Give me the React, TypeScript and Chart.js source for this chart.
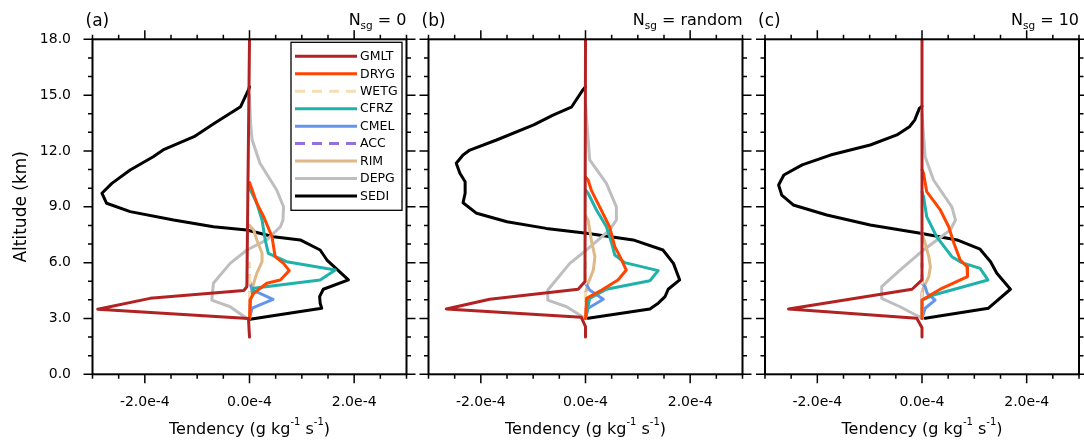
import React, { useEffect, useRef } from 'react';
import { Chart, registerables } from 'chart.js';

Chart.register(...registerables);

// ---------- data (tendency values in units of 1e-4 g kg-1 s-1, altitude in km) ----------
const SERIES_NAMES = ['GMLT', 'DRYG', 'WETG', 'CFRZ', 'CMEL', 'ACC', 'RIM', 'DEPG', 'SEDI'];
const SERIES_COLORS = ['#B22222', '#FF4500', '#F5DEB3', '#20B2AA', '#6495ED', '#9370DB', '#DEB887', '#BEBEBE', '#000000'];
const SERIES_DASHED = [false, false, true, false, false, true, false, false, false];

const X_TICKS = [-2, 0, 2];
const Y_TICKS = [0, 3, 6, 9, 12, 15, 18];
const PANEL_LABELS = ['(a)', '(b)', '(c)'];
const PANEL_NSG = ['0', 'random', '10'];

// Panel (a) N_sg = 0
const GMLT_A_ALT = [18, 4.7, 4.5, 4.08, 3.5, 3.0, 2.0];
const GMLT_A_VAL = [0, -0.05, -0.11, -1.9, -2.9, -0.02, 0];
const DRYG_A_ALT = [10.3, 10.0, 9.19, 8.47, 7.39, 6.32, 5.96, 5.57, 5.07, 4.89, 4.35, 3.99, 3.0];
const DRYG_A_VAL = [0, 0.04, 0.14, 0.27, 0.43, 0.49, 0.65, 0.76, 0.59, 0.33, 0.08, 0.01, 0];
const WETG_A_ALT = [3.0, 6.0];
const WETG_A_VAL = [0, 0];
const CFRZ_A_ALT = [10.0, 9.19, 8.29, 7.22, 6.5, 6.05, 5.6, 5.07, 4.62, 4.0, 3.0];
const CFRZ_A_VAL = [0, 0.14, 0.24, 0.3, 0.36, 0.71, 1.64, 1.35, 0.08, 0.02, 0];
const CMEL_A_ALT = [5.0, 4.53, 4.35, 4.03, 3.55, 3.0];
const CMEL_A_VAL = [0, 0.05, 0.2, 0.45, 0.05, 0];
const ACC_A_ALT = [3.0, 6.0];
const ACC_A_VAL = [0, 0];
const RIM_A_ALT = [8.0, 7.75, 7.22, 6.5, 6.05, 5.43, 4.89, 4.35, 4.0];
const RIM_A_VAL = [0, 0.08, 0.14, 0.24, 0.24, 0.14, 0.08, 0.03, 0];
const DEPG_A_ALT = [15, 13.5, 12.6, 11.34, 9.9, 9.0, 8.29, 7.93, 7.22, 6.68, 5.96, 4.89, 3.99, 3.63, 3.0];
const DEPG_A_VAL = [0, 0.02, 0.05, 0.2, 0.52, 0.65, 0.64, 0.59, 0.33, -0.05, -0.37, -0.69, -0.72, -0.37, -0.05];
const SEDI_A_ALT = [15.45, 15.28, 14.38, 13.93, 13.49, 12.77, 12.09, 11.69, 10.98, 10.26, 9.73, 9.19, 8.74, 8.29, 7.93, 7.75, 7.39, 7.22, 6.68, 6.14, 5.07, 4.57, 4.17, 3.82, 3.55, 2.96];
const SEDI_A_VAL = [0, -0.02, -0.17, -0.42, -0.67, -1.06, -1.63, -1.84, -2.28, -2.63, -2.82, -2.73, -2.28, -1.45, -0.69, -0.05, 0.46, 0.97, 1.35, 1.48, 1.89, 1.41, 1.34, 1.35, 1.38, 0.01];

// Panel (b) N_sg = random
const GMLT_B_ALT = [18, 4.98, 4.57, 4.03, 3.51, 3.06, 2.56, 2.0];
const GMLT_B_VAL = [0, -0.01, -0.14, -1.83, -2.66, -0.08, 0, 0];
const DRYG_B_ALT = [10.6, 10.44, 9.9, 9.0, 7.93, 6.86, 6.32, 5.6, 5.07, 4.53, 4.08, 3.0];
const DRYG_B_VAL = [0, 0.05, 0.11, 0.27, 0.46, 0.56, 0.66, 0.78, 0.62, 0.31, 0.02, 0];
const WETG_B_ALT = [3.0, 6.0];
const WETG_B_VAL = [0, 0];
const CFRZ_B_ALT = [9.9, 9.73, 8.83, 7.93, 7.04, 6.41, 6.0, 5.57, 5.03, 4.57, 4.08, 3.0];
const CFRZ_B_VAL = [0, 0.05, 0.21, 0.4, 0.5, 0.56, 0.75, 1.39, 1.23, 0.4, 0.08, 0];
const CMEL_B_ALT = [4.9, 4.53, 4.03, 3.55, 3.0];
const CMEL_B_VAL = [0, 0.08, 0.34, 0.05, 0];
const ACC_B_ALT = [3.0, 6.0];
const ACC_B_VAL = [0, 0];
const RIM_B_ALT = [8.5, 8.29, 7.22, 6.32, 5.6, 4.89, 4.35];
const RIM_B_VAL = [0, 0.05, 0.11, 0.18, 0.15, 0.05, 0];
const DEPG_B_ALT = [14.5, 13, 11.52, 10.26, 9.0, 8.29, 7.75, 6.68, 5.96, 4.53, 3.99, 3.63, 3.01];
const DEPG_B_VAL = [0, 0.04, 0.08, 0.4, 0.59, 0.59, 0.46, 0.02, -0.3, -0.72, -0.72, -0.36, -0.01];
const SEDI_B_ALT = [15.45, 15.28, 14.35, 13.93, 13.4, 12.59, 12.05, 11.78, 11.34, 10.8, 10.35, 9.73, 9.22, 8.65, 8.2, 7.84, 7.58, 7.22, 6.68, 5.96, 5.07, 4.57, 4.17, 3.82, 3.51, 3.01];
const SEDI_B_VAL = [0, -0.05, -0.27, -0.62, -0.99, -1.7, -2.21, -2.34, -2.47, -2.4, -2.3, -2.3, -2.34, -2.08, -1.5, -0.75, 0.02, 0.91, 1.48, 1.68, 1.8, 1.58, 1.52, 1.39, 1.23, 0.05];

// Panel (c) N_sg = 10
const GMLT_C_ALT = [18, 5.07, 4.57, 3.51, 3.01, 2.5, 2.0];
const GMLT_C_VAL = [0, 0, -0.19, -2.55, -0.1, 0, 0];
const DRYG_C_ALT = [11.0, 10.8, 9.81, 8.83, 7.93, 7.04, 6.14, 5.78, 5.25, 4.62, 3.99, 3.0];
const DRYG_C_VAL = [0, 0.03, 0.09, 0.35, 0.51, 0.61, 0.73, 0.86, 0.87, 0.38, 0, 0];
const WETG_C_ALT = [3.0, 6.0];
const WETG_C_VAL = [0, 0];
const CFRZ_C_ALT = [9.8, 9.54, 8.47, 7.39, 6.32, 6.0, 5.69, 5.07, 4.26, 3.99, 3.0];
const CFRZ_C_VAL = [0, 0.03, 0.09, 0.28, 0.57, 0.76, 1.11, 1.26, 0.22, 0, 0];
const CMEL_C_ALT = [4.9, 4.71, 4.35, 3.99, 3.55, 3.0];
const CMEL_C_VAL = [0, 0.06, 0.1, 0.25, 0.06, 0];
const ACC_C_ALT = [3.0, 6.0];
const ACC_C_VAL = [0, 0];
const RIM_C_ALT = [7.6, 7.04, 6.32, 5.78, 5.25, 4.6, 4.2];
const RIM_C_VAL = [0, 0.06, 0.13, 0.16, 0.13, 0.02, 0];
const DEPG_C_ALT = [14, 12.8, 11.69, 10.44, 9.0, 8.29, 7.75, 6.68, 5.6, 4.71, 4.08, 3.63, 3.01];
const DEPG_C_VAL = [0, 0.03, 0.06, 0.22, 0.57, 0.64, 0.54, 0.03, -0.42, -0.77, -0.77, -0.42, 0];
const SEDI_C_ALT = [14.4, 14.29, 13.66, 13.3, 12.86, 12.32, 11.78, 11.25, 10.71, 10.17, 9.63, 9.1, 8.56, 8.02, 7.58, 7.22, 6.72, 6.05, 5.43, 4.57, 3.55, 3.01];
const SEDI_C_VAL = [0, -0.05, -0.14, -0.24, -0.48, -0.99, -1.75, -2.29, -2.64, -2.74, -2.68, -2.46, -1.82, -0.99, -0.03, 0.67, 1.11, 1.31, 1.43, 1.69, 1.27, 0.06];

const PANEL_ALTS = [
  [GMLT_A_ALT, DRYG_A_ALT, WETG_A_ALT, CFRZ_A_ALT, CMEL_A_ALT, ACC_A_ALT, RIM_A_ALT, DEPG_A_ALT, SEDI_A_ALT],
  [GMLT_B_ALT, DRYG_B_ALT, WETG_B_ALT, CFRZ_B_ALT, CMEL_B_ALT, ACC_B_ALT, RIM_B_ALT, DEPG_B_ALT, SEDI_B_ALT],
  [GMLT_C_ALT, DRYG_C_ALT, WETG_C_ALT, CFRZ_C_ALT, CMEL_C_ALT, ACC_C_ALT, RIM_C_ALT, DEPG_C_ALT, SEDI_C_ALT],
];
const PANEL_VALS = [
  [GMLT_A_VAL, DRYG_A_VAL, WETG_A_VAL, CFRZ_A_VAL, CMEL_A_VAL, ACC_A_VAL, RIM_A_VAL, DEPG_A_VAL, SEDI_A_VAL],
  [GMLT_B_VAL, DRYG_B_VAL, WETG_B_VAL, CFRZ_B_VAL, CMEL_B_VAL, ACC_B_VAL, RIM_B_VAL, DEPG_B_VAL, SEDI_B_VAL],
  [GMLT_C_VAL, DRYG_C_VAL, WETG_C_VAL, CFRZ_C_VAL, CMEL_C_VAL, ACC_C_VAL, RIM_C_VAL, DEPG_C_VAL, SEDI_C_VAL],
];

// ---------- layout ----------
const W = 1084;
const H = 443;
const PLOT_TOP = 39.3;
const PLOT_BOTTOM = 374.3;
const PLOT_LEFT = [92.5, 428.5, 765];
const PLOT_WIDTH = 314;
const Y_AXIS_W = 80;
const X_AXIS_H = 50;
const FONT = '"DejaVu Sans", sans-serif';
const MAJOR_LEN = 9;
const MINOR_LEN = 4.5;

function framePlugin(p: number) {
  return {
    id: 'frame' + p,
    afterDraw(chart: any) {
      const ctx = chart.ctx as CanvasRenderingContext2D;
      const { left, right, top, bottom } = chart.chartArea;
      const xs = chart.scales.x;
      const ys = chart.scales.y;
      ctx.save();
      ctx.strokeStyle = '#000';
      ctx.fillStyle = '#000';
      // ticks
      ctx.lineWidth = 1.5;
      ctx.beginPath();
      for (let i = 0; i <= 12; i++) {
        const v = -3 + i * 0.5;
        const len = X_TICKS.includes(v) ? MAJOR_LEN : MINOR_LEN;
        const px = xs.getPixelForValue(v);
        ctx.moveTo(px, bottom);
        ctx.lineTo(px, bottom + len);
        ctx.moveTo(px, top);
        ctx.lineTo(px, top - len);
      }
      for (let v = 0; v <= 18; v++) {
        const len = Y_TICKS.includes(v) ? MAJOR_LEN : MINOR_LEN;
        const py = ys.getPixelForValue(v);
        ctx.moveTo(left, py);
        ctx.lineTo(left - len, py);
        ctx.moveTo(right, py);
        ctx.lineTo(right + len, py);
      }
      ctx.stroke();
      // frame
      ctx.lineWidth = 2;
      ctx.strokeRect(left, top, right - left, bottom - top);

      // panel label
      ctx.textBaseline = 'alphabetic';
      ctx.textAlign = 'left';
      ctx.font = `17px ${FONT}`;
      ctx.fillText(PANEL_LABELS[p], left - 7, 26);

      // N_sg title (right aligned)
      const big = `16px ${FONT}`;
      const small = `10.5px ${FONT}`;
      ctx.font = big;
      const w1 = ctx.measureText('N').width;
      const rest = ' = ' + PANEL_NSG[p];
      const w3 = ctx.measureText(rest).width;
      ctx.font = small;
      const w2 = ctx.measureText('sg').width;
      const sx = right - (w1 + w2 + w3);
      ctx.font = big;
      ctx.fillText('N', sx, 24.5);
      ctx.font = small;
      ctx.fillText('sg', sx + w1, 28.5);
      ctx.font = big;
      ctx.fillText(rest, sx + w1 + w2, 24.5);

      // x title with superscripts
      const parts: [string, boolean][] = [['Tendency (g kg', false], ['-1', true], [' s', false], ['-1', true], [')', false]];
      const mainF = `16px ${FONT}`;
      const supF = `10px ${FONT}`;
      let total = 0;
      const widths = parts.map(([t, sup]) => {
        ctx.font = sup ? supF : mainF;
        const w = ctx.measureText(t).width;
        total += w;
        return w;
      });
      let tx = (left + right) / 2 - total / 2;
      parts.forEach(([t, sup], i) => {
        ctx.font = sup ? supF : mainF;
        ctx.fillText(t, tx, sup ? 425 : 433.5);
        tx += widths[i];
      });

      if (p === 0) {
        // y title
        ctx.save();
        ctx.translate(22, (top + bottom) / 2);
        ctx.rotate(-Math.PI / 2);
        ctx.textAlign = 'center';
        ctx.textBaseline = 'middle';
        ctx.font = `17px ${FONT}`;
        ctx.fillText('Altitude (km)', 0, 0);
        ctx.restore();

        // legend
        const bx = right - 115.5;
        const by = top + 3;
        const bw = 111;
        const bh = 168;
        ctx.lineWidth = 1.3;
        ctx.strokeRect(bx, by, bw, bh);
        ctx.font = `12.5px ${FONT}`;
        ctx.textBaseline = 'middle';
        SERIES_NAMES.forEach((name, i) => {
          const yy = by + 14 + i * 17.46;
          ctx.save();
          ctx.strokeStyle = SERIES_COLORS[i];
          ctx.lineWidth = 3;
          ctx.setLineDash(SERIES_DASHED[i] ? [10, 7] : []);
          ctx.beginPath();
          ctx.moveTo(bx + 4, yy);
          ctx.lineTo(bx + 66, yy);
          ctx.stroke();
          ctx.restore();
          ctx.fillStyle = '#000';
          ctx.fillText(name, bx + 69, yy + 0.5);
        });
      }
      ctx.restore();
    },
  };
}

function buildConfig(p: number): any {
  const L = PLOT_LEFT[p];
  const R = L + PLOT_WIDTH;
  const datasets = SERIES_NAMES.map((name, i) => {
    const alts = PANEL_ALTS[p][i];
    const vals = PANEL_VALS[p][i];
    return {
      label: name,
      data: alts.map((a, k) => ({ x: vals[k], y: a })),
      borderColor: SERIES_COLORS[i],
      backgroundColor: SERIES_COLORS[i],
      borderWidth: 3,
      borderDash: SERIES_DASHED[i] ? [10, 7] : [],
      borderJoinStyle: 'round',
      borderCapStyle: SERIES_DASHED[i] ? 'butt' : 'round',
      pointRadius: 0,
      showLine: true,
      fill: false,
      tension: 0,
    };
  });
  return {
    type: 'scatter',
    data: { datasets },
    options: {
      responsive: false,
      animation: false,
      events: [],
      layout: {
        autoPadding: false,
        padding: { left: L - Y_AXIS_W, right: W - R, top: PLOT_TOP, bottom: H - PLOT_BOTTOM - X_AXIS_H },
      },
      plugins: { legend: { display: false }, tooltip: { enabled: false }, title: { display: false } },
      scales: {
        x: {
          type: 'linear',
          min: -3,
          max: 3,
          afterBuildTicks: (s: any) => { s.ticks = X_TICKS.map((v) => ({ value: v })); },
          afterFit: (s: any) => { s.height = X_AXIS_H; },
          ticks: {
            callback: (v: number) => v.toFixed(1) + 'e-4',
            font: { family: FONT, size: 14 },
            color: '#000',
            padding: 11,
            maxRotation: 0,
            autoSkip: false,
          },
          grid: { display: true, drawOnChartArea: false, drawTicks: true, tickLength: MAJOR_LEN, color: 'rgba(0,0,0,0)' },
          border: { display: false },
        },
        y: {
          type: 'linear',
          min: 0,
          max: 18,
          afterBuildTicks: (s: any) => { s.ticks = Y_TICKS.map((v) => ({ value: v })); },
          afterFit: (s: any) => { s.width = Y_AXIS_W; },
          ticks: {
            display: p === 0,
            callback: (v: number) => v.toFixed(1),
            font: { family: FONT, size: 14 },
            color: '#000',
            padding: 12.5,
            autoSkip: false,
          },
          grid: { display: true, drawOnChartArea: false, drawTicks: true, tickLength: MAJOR_LEN, color: 'rgba(0,0,0,0)' },
          border: { display: false },
        },
      },
    },
    plugins: [framePlugin(p)],
  };
}

function Panel({ p }: { p: number }) {
  const ref = useRef<HTMLCanvasElement>(null);
  useEffect(() => {
    if (!ref.current) return;
    const chart = new Chart(ref.current, buildConfig(p));
    return () => chart.destroy();
  }, [p]);
  return (
    <canvas
      ref={ref}
      width={W}
      height={H}
      style={{ position: 'absolute', left: 0, top: 0, width: W, height: H }}
    />
  );
}

export default function App() {
  return (
    <div style={{ position: 'absolute', left: 0, top: 0, width: W, height: H, background: '#fff' }}>
      {[0, 1, 2].map((p) => (
        <Panel key={p} p={p} />
      ))}
    </div>
  );
}
